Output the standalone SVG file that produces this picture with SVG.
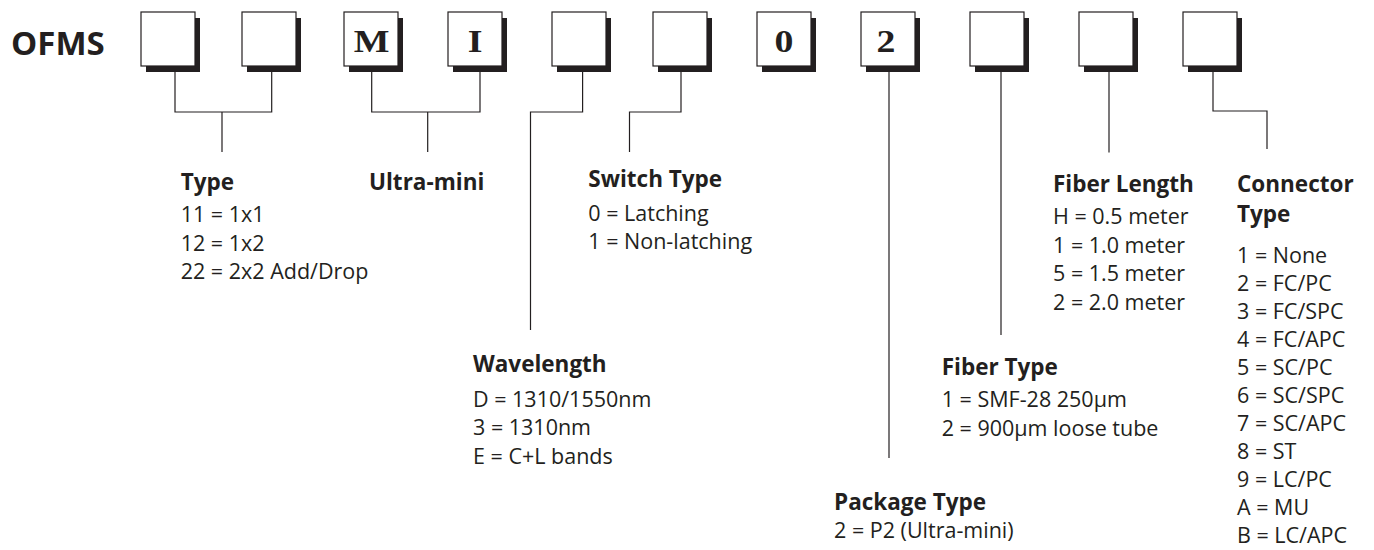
<svg xmlns="http://www.w3.org/2000/svg" width="1374" height="550" viewBox="0 0 1374 550">
<style>
.bg{fill:#ffffff}
.box{fill:#ffffff;stroke:#231f20;stroke-width:1.2}
.sh{fill:#231f20}
.ch{font-family:"Liberation Serif","Times New Roman",serif;font-weight:bold;font-size:31px;fill:#231f20;text-anchor:middle}
.title{font-family:"Open Sans","Noto Sans",sans-serif;font-weight:bold;font-size:33px;fill:#231f20}
.hd{font-family:"Open Sans","Noto Sans",sans-serif;font-weight:bold;font-size:22.5px;fill:#231f20}
.it{font-family:"Open Sans","Noto Sans",sans-serif;font-size:21.5px;fill:#231f20}
.ln{fill:none;stroke:#231f20;stroke-width:1.2}
</style>
<defs>
<g id="cell">
<rect class="sh" x="5" y="6" width="54" height="54"/>
<rect class="box" x="0" y="0" width="54" height="54"/>
</g>
</defs>
<rect class="bg" x="0" y="0" width="1374" height="550"/>
<g id="title"><text class="title" x="11" y="55">OFMS</text></g>
<g id="box1"><use href="#cell" x="141" y="12"/></g>
<g id="box2"><use href="#cell" x="242" y="12"/></g>
<g id="box3"><use href="#cell" x="344" y="12"/><text class="ch" transform="translate(371.5,51.7) scale(1.22,1)">M</text></g>
<g id="box4"><use href="#cell" x="448" y="12"/><text class="ch" transform="translate(475,51.7) scale(1.22,1)">I</text></g>
<g id="box5"><use href="#cell" x="552" y="12"/></g>
<g id="box6"><use href="#cell" x="653" y="12"/></g>
<g id="box7"><use href="#cell" x="757" y="12"/><text class="ch" transform="translate(784,51.7) scale(1.22,1)">0</text></g>
<g id="box8"><use href="#cell" x="861" y="12"/><text class="ch" transform="translate(886,51.7) scale(1.22,1)">2</text></g>
<g id="box9"><use href="#cell" x="970" y="12"/></g>
<g id="box10"><use href="#cell" x="1079" y="12"/></g>
<g id="box11"><use href="#cell" x="1183" y="12"/></g>
<g id="connectors">
<path class="ln" d="M175,72 V112 H271.7 V72 M222,112 V152"/>
<path class="ln" d="M371.7,72 V112 H480 V72 M427.7,112 V152"/>
<path class="ln" d="M582.6,72 V112 H530.5 V330"/>
<path class="ln" d="M681,72 V112 H629.5 V152"/>
<path class="ln" d="M889,72 V458"/>
<path class="ln" d="M1001,72 V335"/>
<path class="ln" d="M1109,72 V152.5"/>
<path class="ln" d="M1213,72 V111 H1267 V149"/>
</g>
<g id="type">
<text class="hd" x="180.7" y="190">Type</text>
<text class="it" x="180.7" y="221.7">11 = 1x1</text>
<text class="it" x="180.7" y="250.5">12 = 1x2</text>
<text class="it" x="180.7" y="279">22 = 2x2 Add/Drop</text>
</g>
<g id="ultramini"><text class="hd" x="369" y="190">Ultra-mini</text></g>
<g id="switchtype">
<text class="hd" x="588.3" y="187">Switch Type</text>
<text class="it" x="588.3" y="220.7">0 = Latching</text>
<text class="it" x="588.3" y="249.3">1 = Non-latching</text>
</g>
<g id="wavelength">
<text class="hd" x="473" y="372">Wavelength</text>
<text class="it" x="473" y="406.7">D = 1310/1550nm</text>
<text class="it" x="473" y="435">3 = 1310nm</text>
<text class="it" x="473" y="463.5">E = C+L bands</text>
</g>
<g id="packagetype">
<text class="hd" x="834" y="510">Package Type</text>
<text class="it" x="834" y="538.3">2 = P2 (Ultra-mini)</text>
</g>
<g id="fibertype">
<text class="hd" x="941.7" y="374.5">Fiber Type</text>
<text class="it" x="941.7" y="407.3">1 = SMF-28 250µm</text>
<text class="it" x="941.7" y="436">2 = 900µm loose tube</text>
</g>
<g id="fiberlength">
<text class="hd" x="1053" y="192">Fiber Length</text>
<text class="it" x="1053" y="224">H = 0.5 meter</text>
<text class="it" x="1053" y="252.5">1 = 1.0 meter</text>
<text class="it" x="1053" y="281">5 = 1.5 meter</text>
<text class="it" x="1053" y="309.5">2 = 2.0 meter</text>
</g>
<g id="connectortype">
<text class="hd" x="1237" y="191.7">Connector</text>
<text class="hd" x="1237" y="222">Type</text>
<text class="it" x="1237" y="263">1 = None</text>
<text class="it" x="1237" y="291">2 = FC/PC</text>
<text class="it" x="1237" y="319">3 = FC/SPC</text>
<text class="it" x="1237" y="347">4 = FC/APC</text>
<text class="it" x="1237" y="375">5 = SC/PC</text>
<text class="it" x="1237" y="403">6 = SC/SPC</text>
<text class="it" x="1237" y="431">7 = SC/APC</text>
<text class="it" x="1237" y="459">8 = ST</text>
<text class="it" x="1237" y="487">9 = LC/PC</text>
<text class="it" x="1237" y="515">A = MU</text>
<text class="it" x="1237" y="543">B = LC/APC</text>
</g>
</svg>
